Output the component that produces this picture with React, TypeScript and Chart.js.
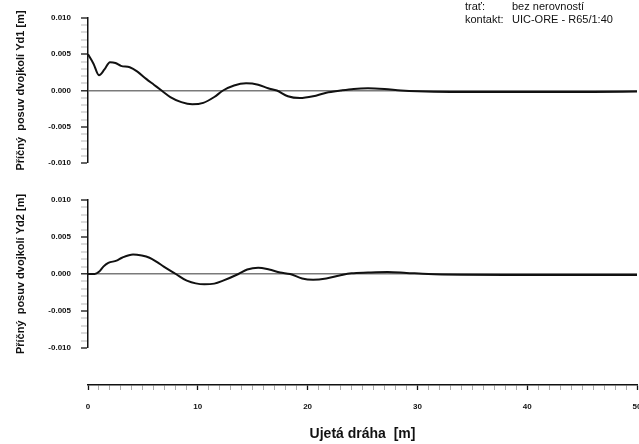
import React, { useEffect, useRef } from "react";
import { Chart, registerables } from "chart.js";

Chart.register(...registerables);

// ---- data (distance [m], lateral displacement [m]) ----
const distanceYd1 = [0, 0.5, 1.0, 1.5, 2.0, 2.5, 3.0, 3.8, 4.5, 5.3, 6.0, 6.7, 7.5, 8.5, 9.5, 10.5, 11.5, 12.3, 13.3, 14.4, 15.5, 16.4, 17.2, 18.2, 19.3, 20.5, 21.7, 23.0, 24.2, 25.5, 27.0, 28.5, 30, 33, 37, 42, 46, 50];
const valuesYd1 = [0.005, 0.0037, 0.0021, 0.0029, 0.0039, 0.0038, 0.0034, 0.0032, 0.0026, 0.0016, 0.0008, 0, -0.0009, -0.0016, -0.0019, -0.0017, -0.0009, 0, 0.0007, 0.001, 0.0008, 0.0003, 0, -0.0008, -0.00105, -0.0008, -0.0003, 0, 0.00022, 0.0003, 0.0002, 0, -0.00012, -0.0002, -0.0002, -0.0002, -0.0002, -0.00015];

const distanceYd2 = [0, 0.6, 1.0, 1.4, 1.85, 2.6, 3.1, 4.1, 4.9, 5.6, 6.3, 6.9, 8.0, 9.0, 10.6, 11.5, 12.3, 13.7, 14.5, 15.5, 16.5, 17.5, 18.4, 19.5, 20.5, 21.7, 22.9, 24.0, 25.5, 27.3, 29.0, 31, 34, 38, 44, 50];
const valuesYd2 = [0, 0, 0.0003, 0.001, 0.0015, 0.0018, 0.0022, 0.00265, 0.0025, 0.0022, 0.0016, 0.001, 0, -0.0009, -0.0014, -0.0013, -0.0009, 0, 0.0006, 0.00085, 0.0006, 0.0002, 0, -0.0006, -0.00077, -0.0006, -0.0002, 0.0001, 0.0002, 0.00027, 0.00015, 0, -0.0001, -0.00015, -0.00015, -0.00012];

const yMin = -0.01;
const yMax = 0.01;
const yMinorStep = 0.001;
const yLabelEvery = 5; // label every 0.005
const xMin = 0;
const xMax = 50;
const xMinorStep = 1;
const xLabelEvery = 10;

const titleYd1 = "Příčný  posuv dvojkolí Yd1 [m]";
const titleYd2 = "Příčný  posuv dvojkolí Yd2 [m]";
const titleX = "Ujetá dráha  [m]";
const headerLabels = ["trať:", "kontakt:"];
const headerValues = ["bez nerovností", "UIC-ORE - R65/1:40"];

const FONT = '"Liberation Sans", Arial, Helvetica, sans-serif';
const INK = "#111";

const yTickValues: number[] = [];
for (let k = Math.round(yMin / yMinorStep); k <= Math.round(yMax / yMinorStep); k++) yTickValues.push(k * yMinorStep);
const xTickValues: number[] = [];
for (let k = Math.round(xMin / xMinorStep); k <= Math.round(xMax / xMinorStep); k++) xTickValues.push(k * xMinorStep);

function isMajorY(v: number) {
  const k = Math.round(v / yMinorStep);
  return k % yLabelEvery === 0;
}

function panelConfig(xs: number[], ys: number[], title: string, padTop: number, padBottom: number): any {
  return {
    type: "line",
    data: {
      datasets: [
        {
          data: xs.map((x, i) => ({ x, y: ys[i] })),
          borderColor: INK,
          borderWidth: 2,
          pointRadius: 0,
          cubicInterpolationMode: "monotone",
          fill: false,
        },
      ],
    },
    options: {
      animation: false,
      responsive: false,
      events: [],
      layout: { padding: { left: 0, right: 23, top: padTop, bottom: padBottom } },
      plugins: { legend: { display: false }, tooltip: { enabled: false }, title: { display: false } },
      scales: {
        x: { type: "linear", min: xMin, max: xMax, display: false },
        y: {
          type: "linear",
          min: yMin,
          max: yMax,
          afterBuildTicks: (s: any) => {
            s.ticks = yTickValues.map((v) => ({ value: v }));
          },
          afterFit: (s: any) => {
            s.width = 88;
          },
          ticks: {
            autoSkip: false,
            padding: 10,
            color: INK,
            font: { family: FONT, size: 8, weight: "bold" },
            callback: (v: number) => {
              const k = Math.round(v / yMinorStep);
              if (k % yLabelEvery !== 0) return "";
              if (k === 0) return "0.000";
              return (k * yMinorStep).toFixed(3);
            },
          },
          grid: {
            display: true,
            drawOnChartArea: true,
            color: (ctx: any) => (ctx.tick && Math.abs(ctx.tick.value) < 1e-9 ? "#7a7a7a" : "rgba(0,0,0,0)"),
            lineWidth: (ctx: any) => (ctx.tick && Math.abs(ctx.tick.value) < 1e-9 ? 1.6 : 0),
            tickColor: (ctx: any) => (ctx.tick && isMajorY(ctx.tick.value) ? INK : "#999"),
            tickWidth: (ctx: any) => (ctx.tick && isMajorY(ctx.tick.value) ? 1.3 : 0.7),
            tickLength: 7,
          },
          border: { display: true, color: INK, width: 1.5 },
          title: {
            display: true,
            text: title,
            color: INK,
            font: { family: FONT, size: 11, weight: "bold" },
            padding: { top: 14, bottom: 0 },
          },
        },
      },
    },
  };
}

function axisConfig(): any {
  return {
    type: "line",
    data: { datasets: [{ data: [] }] },
    options: {
      animation: false,
      responsive: false,
      events: [],
      layout: { padding: { left: 88, right: 23, top: 0, bottom: 0 } },
      plugins: { legend: { display: false }, tooltip: { enabled: false } },
      scales: {
        x: {
          type: "linear",
          position: "bottom",
          min: xMin,
          max: xMax,
          afterBuildTicks: (s: any) => {
            s.ticks = xTickValues.map((v) => ({ value: v }));
          },
          afterFit: (s: any) => {
            s.height = 59;
          },
          ticks: {
            autoSkip: false,
            maxRotation: 0,
            minRotation: 0,
            padding: 12,
            color: INK,
            font: { family: FONT, size: 8, weight: "bold" },
            callback: (v: number) => (Math.round(v) % xLabelEvery === 0 ? String(Math.round(v)) : ""),
          },
          grid: {
            drawOnChartArea: false,
            tickLength: 5,
            tickColor: (ctx: any) => (ctx.tick && Math.round(ctx.tick.value) % xLabelEvery === 0 ? INK : "#888"),
            tickWidth: (ctx: any) => (ctx.tick && Math.round(ctx.tick.value) % xLabelEvery === 0 ? 1.3 : 0.7),
          },
          border: { display: true, color: INK, width: 1.5 },
          title: {
            display: true,
            text: titleX,
            color: INK,
            font: { family: FONT, size: 14, weight: "bold" },
            padding: { top: 0, bottom: 1 },
          },
        },
        y: { type: "linear", display: false, min: 0, max: 1 },
      },
    },
  };
}

function ChartCanvas({ config, top, height }: { config: () => any; top: number; height: number }) {
  const ref = useRef<HTMLCanvasElement | null>(null);
  useEffect(() => {
    if (!ref.current) return;
    const chart = new Chart(ref.current, config());
    return () => chart.destroy();
  }, []);
  return (
    <canvas
      ref={ref}
      width={660}
      height={height}
      style={{ position: "absolute", left: 0, top, width: 660, height, display: "block" }}
    />
  );
}

export default function App() {
  return (
    <div
      style={{
        position: "fixed",
        left: 0,
        top: 0,
        width: 639,
        height: 444,
        overflow: "hidden",
        background: "#fff",
        fontFamily: FONT,
      }}
    >
      <ChartCanvas config={() => panelConfig(distanceYd1, valuesYd1, titleYd1, 18, 17)} top={0} height={180} />
      <ChartCanvas config={() => panelConfig(distanceYd2, valuesYd2, titleYd2, 18, 16)} top={182} height={182} />
      <ChartCanvas config={axisConfig} top={364} height={80} />
      {headerLabels.map((lab, i) => (
        <React.Fragment key={lab}>
          <div
            style={{ position: "absolute", left: 465, top: i * 12.5, fontSize: 11, lineHeight: "13px", color: INK, whiteSpace: "nowrap" }}
          >
            {lab}
          </div>
          <div
            style={{ position: "absolute", left: 512, top: i * 12.5, fontSize: 11, lineHeight: "13px", color: INK, whiteSpace: "nowrap" }}
          >
            {headerValues[i]}
          </div>
        </React.Fragment>
      ))}
    </div>
  );
}
